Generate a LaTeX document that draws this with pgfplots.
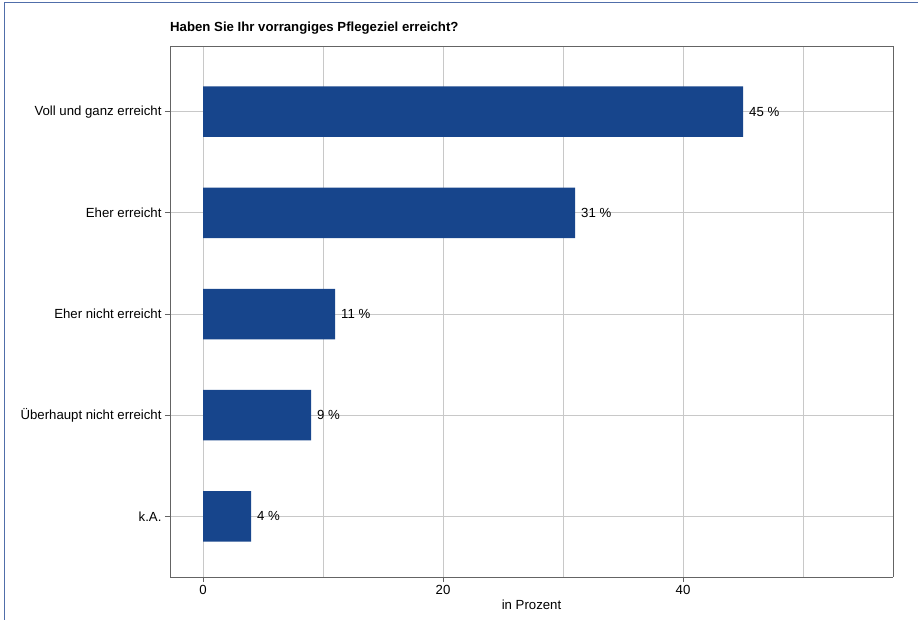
\documentclass[border=0pt]{standalone}
\usepackage{pgfplots}
\pgfplotsset{compat=1.18}
\usepackage{fontspec}
\setmainfont{Liberation Sans}
\definecolor{barblue}{RGB}{23,69,140}
\definecolor{framec}{RGB}{80,110,170}
\definecolor{gridc}{RGB}{200,200,200}
\definecolor{axc}{RGB}{100,100,100}
\begin{document}
\begin{tikzpicture}[x=1pt,y=1pt]
\useasboundingbox (0,0) rectangle (918,-620);
\draw[framec,line width=1.3pt] (4.6,-700) -- (4.6,-2.6) -- (1000,-2.6);
\node[anchor=west,inner sep=0,font=\fontsize{13.2}{15}\selectfont\bfseries] at (170,-28) {Haben Sie Ihr vorrangiges Pflegeziel erreicht?};
\begin{axis}[
  at={(170pt,-577pt)}, anchor=south west,
  scale only axis, width=723pt, height=530pt,
  xmin=-2.75, xmax=57.5, ymin=0.4, ymax=5.64,
  xbar, bar width=50.5pt,
  xtick={0,20,40}, minor xtick={10,30,50},
  ytick={1,2,3,4,5},
  yticklabels={k.A.,Überhaupt nicht erreicht,Eher nicht erreicht,Eher erreicht,Voll und ganz erreicht},
  xmajorgrids, xminorgrids, ymajorgrids,
  grid style={gridc,line width=0.9pt},
  minor grid style={gridc,line width=0.9pt},
  minor tick length=0pt,
  major tick length=5pt,
  tick align=outside,
  tick style={axc,line width=0.8pt},
  axis line style={axc,line width=1pt},
  axis x line*=bottom, axis y line*=left,
  every axis plot/.append style={},
  ticklabel style={font=\fontsize{13.2}{15}\selectfont},
  /pgf/number format/assume math mode=true,
  xlabel={in Prozent},
  xlabel style={font=\fontsize{13.2}{15}\selectfont, at={(axis description cs:0.5,0)}, anchor=center, yshift=-28pt},
  point meta=x,
  nodes near coords={\pgfmathprintnumber{\pgfplotspointmeta}~\%},
  nodes near coords style={font=\fontsize{13.2}{15}\selectfont, anchor=west, inner sep=0pt, xshift=6pt, text=black},
  clip=false,
]
\addplot[draw=none, fill=barblue] coordinates {(4,1) (9,2) (11,3) (31,4) (45,5)};
\end{axis}
\draw[axc,line width=1pt] (170,-47) -- (893,-47) -- (893,-577);
\end{tikzpicture}
\end{document}
